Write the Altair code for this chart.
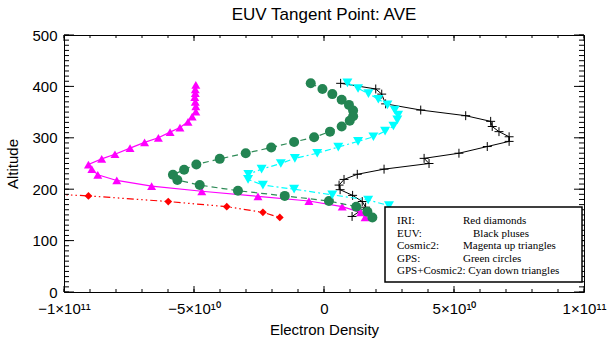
import altair as alt
import pandas as pd

# ---------------- data (density in units of 1e10) ----------------
iri_alt = [197, 187, 176, 166, 155, 145]
iri_den = [-13.0, -9.06, -5.99, -3.74, -2.35, -1.70]

euv_alt = [406, 395, 385, 366, 354, 343, 332, 322, 312, 302, 293, 283, 270, 260, 250, 239,
           229, 219, 208, 199, 188, 176, 165, 147]
euv_den = [0.64, 1.99, 2.22, 2.37, 3.72, 5.45, 6.41, 6.47, 6.73, 7.12, 7.12, 6.28, 5.19, 3.85,
           4.04, 2.31, 1.28, 0.77, 0.58, 0.62, 1.10, 1.47, 1.60, 1.08]

cos_alt = [403, 394, 387, 379, 370, 361, 351, 341, 331, 320, 311, 300, 291, 280, 268, 259,
           248, 239, 228, 217, 206, 196, 186, 177, 166, 155, 145]
cos_den = [-4.93, -4.95, -4.95, -4.97, -4.95, -4.93, -4.93, -5.07, -5.23, -5.54, -5.92, -6.37,
           -6.90, -7.46, -8.04, -8.55, -9.06, -8.93, -8.70, -7.97, -6.63, -4.70, -2.54, -0.58,
           0.70, 1.41, 1.58]

gps_alt = [406, 395, 385, 374, 364, 353, 342, 333, 322, 312, 301, 292, 281, 270, 259, 248,
           238, 228, 218, 208, 197, 187, 177, 166, 156, 145]
gps_den = [-0.51, -0.06, 0.32, 0.68, 0.96, 1.12, 1.12, 0.99, 0.68, 0.23, -0.38, -1.15, -2.03,
           -3.01, -4.01, -4.91, -5.38, -5.81, -5.64, -4.78, -3.31, -1.51, 0.19, 1.24, 1.67, 1.86]

gc_alt = [407, 396, 386, 375, 364, 354, 344, 335, 323, 313, 302, 293, 282, 270, 260, 250,
          239, 229, 219, 208, 200, 189, 179, 168]
gc_den = [0.90, 1.31, 1.71, 2.09, 2.44, 2.72, 2.85, 2.82, 2.67, 2.35, 1.90, 1.31, 0.55, -0.26,
          -1.12, -1.66, -2.40, -2.91, -2.92, -2.35, -1.15, 0.32, 1.70, 2.50]

x_major = [-1e11, -5e10, 0, 5e10, 1e11]
x_minor = [k * 1e10 for k in range(-10, 11)]
y_major = [0, 100, 200, 300, 400, 500]
y_minor = list(range(0, 501, 10))

legend_rows = [("IRI:", "Red diamonds"), ("EUV:", "Black pluses"),
               ("Cosmic2:", "Magenta up triangles"), ("GPS:", "Green circles"),
               ("GPS+Cosmic2: Cyan down triangles", "")]

# ---------------- layout ----------------
W, H = 520, 257
LEFT, TOP = 64, 35
FONT = "Liberation Sans"
xscale = alt.Scale(domain=[-1e11, 1e11], nice=False, zero=False)
yscale = alt.Scale(domain=[0, 500], nice=False, zero=False)

x_expr = ("datum.value == -1e11 ? '\u22121\u00d710\u00b9\u00b9' : "
          "datum.value == -5e10 ? '\u22125\u00d710\u00b9\u2070' : "
          "datum.value == 0 ? '0' : datum.value == 5e10 ? '5\u00d710\u00b9\u2070' : '1\u00d710\u00b9\u00b9'")

xaxis = alt.Axis(values=x_major, labelExpr=x_expr, ticks=False, domain=False, grid=False,
                 labelPadding=9, labelFontSize=15, labelFont=FONT, labelColor="black",
                 labelFlush=False, labelOverlap=False,
                 title="Electron Density", titleFont=FONT, titleFontSize=15,
                 titleFontWeight="normal", titleColor="black", titleY=37,
                 titleBaseline="middle")
yaxis = alt.Axis(values=y_major, format="d", ticks=False, domain=False, grid=False,
                 labelPadding=7, labelFontSize=15, labelFont=FONT, labelColor="black",
                 labelFlush=False, labelOverlap=False,
                 title="Altitude", titleFont=FONT, titleFontSize=15, titleFontWeight="normal",
                 titleColor="black", titleX=-52, titleY=H / 2, titleAngle=-90,
                 titleBaseline="middle", titleAlign="center")


def table(a, d):
    return pd.DataFrame({"alt": a, "den": [v * 1e10 for v in d], "i": list(range(len(a)))})


def enc(c):
    return c.encode(x=alt.X("den:Q", scale=xscale, axis=xaxis),
                    y=alt.Y("alt:Q", scale=yscale, axis=yaxis),
                    order="i:Q")


def penc(c):
    return c.encode(x=alt.X("den:Q", scale=xscale, axis=xaxis),
                    y=alt.Y("alt:Q", scale=yscale, axis=yaxis))


layers = []

# IRI red diamonds
d = table(iri_alt, iri_den)
layers.append(enc(alt.Chart(d).mark_line(color="#ff0000", strokeWidth=1.2,
                                          strokeDash=[7, 3, 1.5, 3, 1.5, 3, 1.5, 3], clip=True)))
layers.append(penc(alt.Chart(d).mark_point(shape="diamond", filled=True, color="#ff0000",
                                           size=60, opacity=1, clip=True)))
# EUV black pluses
d = table(euv_alt, euv_den)
layers.append(enc(alt.Chart(d).mark_line(color="black", strokeWidth=1, clip=True)))
layers.append(penc(alt.Chart(d).mark_point(shape="M-1,0L1,0M0,-1L0,1", filled=False,
                                           color="black", strokeWidth=1, size=80,
                                           opacity=1, clip=True)))
# Cosmic2 magenta up triangles
d = table(cos_alt, cos_den)
layers.append(enc(alt.Chart(d).mark_line(color="#ff00ff", strokeWidth=1.2, clip=True)))
layers.append(penc(alt.Chart(d).mark_point(shape="triangle-up", filled=True, color="#ff00ff",
                                           size=80, opacity=1, clip=True)))
# GPS green circles
d = table(gps_alt, gps_den)
layers.append(enc(alt.Chart(d).mark_line(color="#2e8b57", strokeWidth=1.2,
                                          strokeDash=[6, 4], clip=True)))
layers.append(penc(alt.Chart(d).mark_point(shape="circle", filled=True, color="#238452",
                                           size=100, opacity=1, clip=True)))
# GPS+Cosmic2 cyan down triangles
d = table(gc_alt, gc_den)
layers.append(enc(alt.Chart(d).mark_line(color="#00ffff", strokeWidth=1.2,
                                          strokeDash=[6, 3, 2, 3], clip=True)))
layers.append(penc(alt.Chart(d).mark_point(shape="triangle-down", filled=True, color="#00ffff",
                                           size=100, opacity=1, clip=True)))


# inward ticks on all four sides
def xticks(vals, ln):
    df = pd.DataFrame({"v": vals})
    xe = alt.X("v:Q", scale=xscale, axis=xaxis)
    bot = alt.Chart(df).mark_rule(color="black", strokeWidth=1).encode(
        x=xe, y=alt.value(H), y2=alt.value(H - ln))
    top = alt.Chart(df).mark_rule(color="black", strokeWidth=1).encode(
        x=xe, y=alt.value(0), y2=alt.value(ln))
    return [bot, top]


def yticks(vals, ln):
    df = pd.DataFrame({"v": vals})
    ye = alt.Y("v:Q", scale=yscale, axis=yaxis)
    left = alt.Chart(df).mark_rule(color="black", strokeWidth=1).encode(
        y=ye, x=alt.value(0), x2=alt.value(ln))
    right = alt.Chart(df).mark_rule(color="black", strokeWidth=1).encode(
        y=ye, x=alt.value(W), x2=alt.value(W - ln))
    return [left, right]


layers += xticks(x_minor, 3) + xticks(x_major, 6) + yticks(y_minor, 5) + yticks(y_major, 10)

# legend box
LX0, LX1, LY0, LY1 = 321, 518, 172, 247
box_src = pd.DataFrame({"k": [0]})
layers.append(alt.Chart(box_src).mark_rect(fill="white", stroke="black", strokeWidth=1.5).encode(
    x=alt.value(LX0), x2=alt.value(LX1), y=alt.value(LY0), y2=alt.value(LY1)))
row_y = [186, 198.5, 211, 223.5, 236]
col2_x = [399, 409, 399, 399, 399]
for (a, b), ry, cx in zip(legend_rows, row_y, col2_x):
    layers.append(alt.Chart(box_src).mark_text(text=a, align="left", baseline="middle",
                                               font="Liberation Serif", fontSize=11,
                                               color="black").encode(
        x=alt.value(333), y=alt.value(ry)))
    if b:
        layers.append(alt.Chart(box_src).mark_text(text=b, align="left", baseline="middle",
                                                   font="Liberation Serif", fontSize=11,
                                                   color="black").encode(
            x=alt.value(cx), y=alt.value(ry)))

chart = alt.layer(*layers).properties(
    width=W, height=H,
    autosize=alt.AutoSizeParams(type="none"),
    padding={"left": LEFT, "top": TOP, "right": 609 - LEFT - W, "bottom": 342 - TOP - H},
    title=alt.TitleParams("EUV Tangent Point: AVE", font=FONT, fontSize=17,
                          fontWeight="normal", color="black", offset=11, anchor="middle",
                          frame="group", dy=7),
).configure_view(stroke="black", strokeWidth=1)

chart.save("out.html", embed_options={"renderer": "svg", "actions": False})
